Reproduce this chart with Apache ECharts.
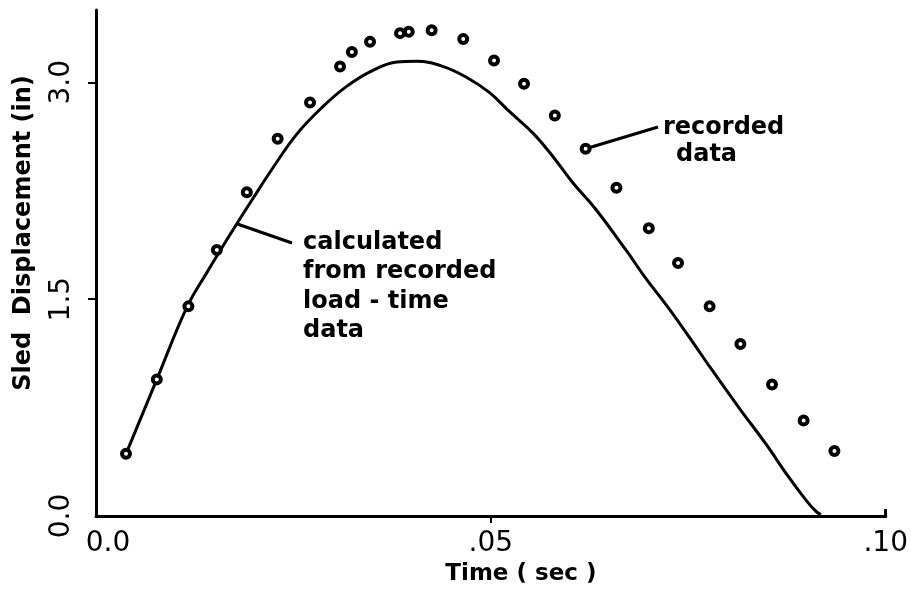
<!DOCTYPE html>
<html>
<head>
<meta charset="utf-8">
<script src="https://cdn.jsdelivr.net/npm/echarts@6/dist/echarts.min.js"></script>
<style>
html,body{margin:0;padding:0;background:#fff;}
#c{width:911px;height:596px;}
</style>
</head>
<body>
<div id="c"></div>
<script>
// Recorded data (circles)
const recordedTime = [0.0038,0.0077,0.0117,0.0153,0.0191,0.0230,0.0271,0.0309,0.0324,0.0347,0.0385,0.0396,0.0425,0.0465,0.0504,0.0542,0.0581,0.0620,0.0659,0.0700,0.0737,0.0777,0.0816,0.0856,0.0896,0.0935];
const recordedDisp = [0.43,0.945,1.45,1.84,2.24,2.61,2.86,3.11,3.21,3.28,3.34,3.35,3.36,3.30,3.15,2.99,2.77,2.54,2.27,1.99,1.75,1.45,1.19,0.91,0.66,0.45];
// Calculated from recorded load-time data (solid curve)
const calcTime = [0.0038,0.0077,0.0115,0.0140,0.0173,0.0198,0.0223,0.0254,0.0287,0.0317,0.0350,0.0381,0.0406,0.0439,0.0469,0.0498,0.0523,0.0553,0.0578,0.0603,0.0633,0.0671,0.0696,0.0722,0.0747,0.0780,0.0814,0.0848,0.0877,0.0899,0.0912,0.0918];
const calcDisp = [0.43,0.945,1.443,1.68,1.975,2.19,2.40,2.64,2.83,2.97,3.08,3.14,3.145,3.11,3.035,2.93,2.80,2.65,2.49,2.31,2.12,1.84,1.645,1.46,1.27,1.01,0.75,0.50,0.27,0.11,0.03,0.01];
// Axis ticks
const xTicks = [0, 0.05, 0.10];
const yTicks = [0, 1.5, 3.0];
const xTitle = 'Time ( sec )';
const yTitle = 'Sled  Displacement (in)';

const FONT = 'DejaVu Sans';
const chart = echarts.init(document.getElementById('c'), null, {renderer: 'canvas'});

const axisLineStyle = {color: '#000', width: 3};

chart.setOption({
  backgroundColor: '#fff',
  animation: false,
  grid: {left: 96, right: 24, top: 10, bottom: 80, containLabel: false},
  xAxis: [{
    type: 'value', min: 0, max: 0.1, interval: 0.05,
    axisLine: {show: true, onZero: false, lineStyle: axisLineStyle},
    axisTick: {show: true, customValues: [xTicks[1]], length: 7, lineStyle: {color: '#000', width: 2}},
    splitLine: {show: false},
    axisLabel: {
      customValues: xTicks, margin: 14, color: '#000', fontFamily: FONT, fontSize: 28,
      formatter: v => v === 0 ? '{z|0.0}' : v.toFixed(2).replace(/^0\./, '.'),
      rich: {z: {padding: [0, 0, 0, 24], color: '#000', fontFamily: FONT, fontSize: 28}}
    },
    name: xTitle, nameLocation: 'middle', nameGap: 46,
    nameTextStyle: {color: '#000', fontFamily: FONT, fontWeight: 'bold', fontSize: 23, padding: [0, 0, 0, 60]}
  }, {
    type: 'value', min: 0, max: 0.1, position: 'bottom', gridIndex: 0,
    axisLine: {show: false},
    axisTick: {show: true, inside: true, customValues: [xTicks[2]], length: 7, lineStyle: {color: '#000', width: 3}},
    axisLabel: {show: false}, splitLine: {show: false}
  }],
  yAxis: {
    type: 'value', min: 0, max: 3.5, interval: 1.5,
    axisLine: {show: true, onZero: false, lineStyle: axisLineStyle},
    axisTick: {show: true, customValues: [yTicks[1], yTicks[2]], length: 8, lineStyle: {color: '#000', width: 2}},
    splitLine: {show: false},
    axisLabel: {
      customValues: yTicks, rotate: 90, margin: 20, color: '#000', fontFamily: FONT, fontSize: 28,
      formatter: v => v.toFixed(1)
    },
    name: yTitle, nameLocation: 'middle', nameGap: 60, nameRotate: 90,
    nameTextStyle: {color: '#000', fontFamily: FONT, fontWeight: 'bold', fontSize: 24, padding: [0, 0, 0, 60]}
  },
  series: [{
    type: 'line', name: 'calculated',
    data: calcTime.map((t, i) => [t, calcDisp[i]]),
    showSymbol: false, smooth: 0.4,
    lineStyle: {color: '#000', width: 3},
    z: 2
  }, {
    type: 'scatter', name: 'recorded',
    data: recordedTime.map((t, i) => [t, recordedDisp[i]]),
    symbol: 'circle', symbolSize: 8,
    itemStyle: {color: '#fff', borderColor: '#000', borderWidth: 4, opacity: 1},
    z: 3
  }]
});

// Annotations anchored in data coordinates
function px(t, v) { return chart.convertToPixel({gridIndex: 0}, [t, v]); }
const calcAnchor = px(0.0179, 2.02);
const recAnchor = px(recordedTime[17], recordedDisp[17]);
const textStyle = {fill: '#000', fontFamily: FONT, fontWeight: 'bold', fontSize: 24};
chart.setOption({
  graphic: [
    {type: 'line', shape: {x1: calcAnchor[0], y1: calcAnchor[1], x2: 292, y2: 243}, style: {stroke: '#000', lineWidth: 3}},
    {type: 'text', x: 303, y: 228, style: Object.assign({text: 'calculated\nfrom recorded\nload - time\ndata', lineHeight: 29.5, verticalAlign: 'top'}, textStyle)},
    {type: 'line', shape: {x1: recAnchor[0], y1: recAnchor[1], x2: 658, y2: 127}, style: {stroke: '#000', lineWidth: 3}},
    {type: 'text', x: 663, y: 128, style: Object.assign({text: 'recorded', verticalAlign: 'middle'}, textStyle)},
    {type: 'text', x: 676, y: 155, style: Object.assign({text: 'data', verticalAlign: 'middle'}, textStyle)}
  ]
});
</script>
</body>
</html>
